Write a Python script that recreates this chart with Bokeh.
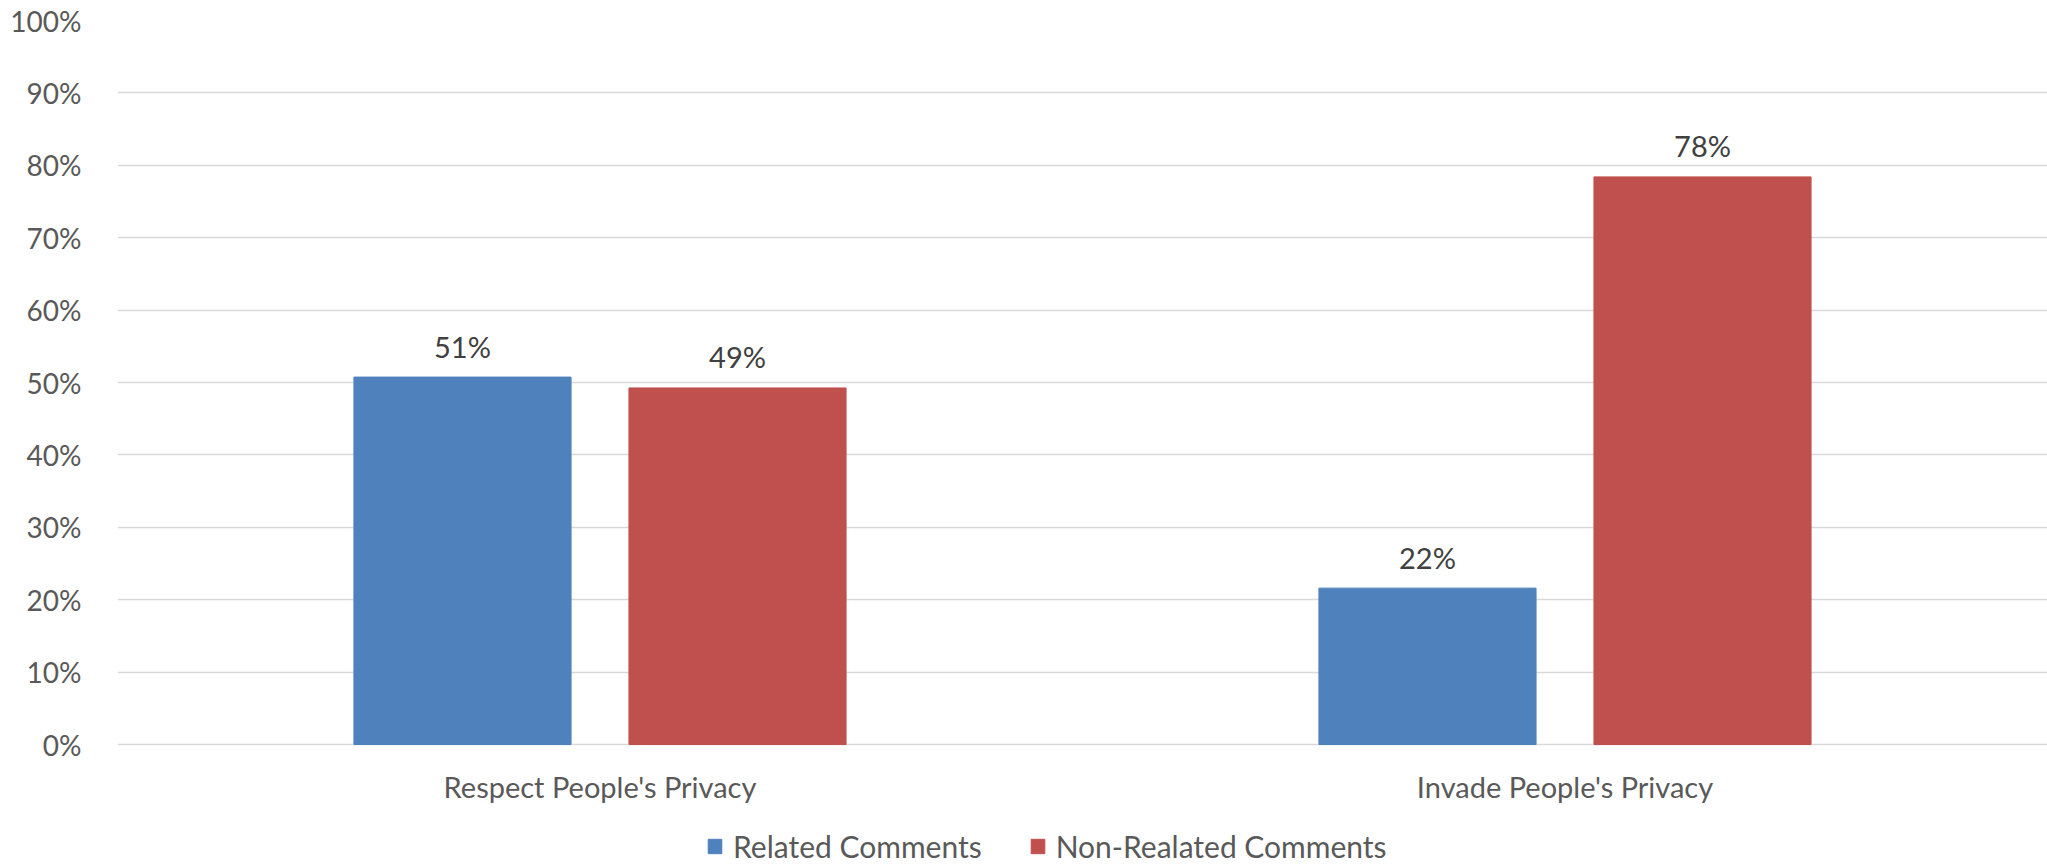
from bokeh.plotting import figure
from bokeh.models import (ColumnDataSource, FactorRange, Range1d, NumeralTickFormatter,
                          Legend, LegendItem, FixedTicker)
from bokeh.transform import dodge
from bokeh.core.properties import value
from bokeh.embed import file_html
from bokeh.resources import INLINE

categories = ["Respect People's Privacy", "Invade People's Privacy"]
related = [0.5075, 0.216]
non_related = [0.4925, 0.784]
related_labels = ["51%", "22%"]
non_related_labels = ["49%", "78%"]
series_names = ["Related Comments", "Non-Realated Comments"]
y_ticks = [0, 0.1, 0.2, 0.3, 0.4, 0.5, 0.6, 0.7, 0.8, 0.9, 1.0]

BLUE = "#4F81BD"
RED = "#C0504D"
FONT = "Lato"

src = ColumnDataSource(dict(cat=categories, rel=related, non=non_related,
                            rel_lab=related_labels, non_lab=non_related_labels))

# frame extends to the bottom of the canvas so that the legend can sit inside it
p = figure(x_range=FactorRange(*categories, range_padding=0), y_range=Range1d(-0.1671, 1),
           width=2047, height=865, output_backend="svg", toolbar_location=None,
           min_border_left=117, min_border_right=0, min_border_top=20, min_border_bottom=0)
p.outline_line_color = None
p.background_fill_color = "white"
p.border_fill_color = "white"

bw = 0.225
off = 0.1425
r1 = p.vbar(x=dodge("cat", -off, range=p.x_range), top="rel", width=bw, source=src,
            fill_color=BLUE, line_color=BLUE)
r2 = p.vbar(x=dodge("cat", off, range=p.x_range), top="non", width=bw, source=src,
            fill_color=RED, line_color=RED)

for col, lab, d in [("rel", "rel_lab", -off), ("non", "non_lab", off)]:
    p.text(x=dodge("cat", d, range=p.x_range), y=col, text=lab, source=src,
           text_align="center", text_baseline="alphabetic", y_offset=-31,
           text_font=value(FONT), text_font_size="29px", text_color="#404040")

p.ygrid.ticker = FixedTicker(ticks=y_ticks)
p.yaxis.ticker = FixedTicker(ticks=y_ticks)
p.ygrid.grid_line_color = "#D9D9D9"
p.ygrid.grid_line_width = 1.5
p.xgrid.grid_line_color = None

p.yaxis.formatter = NumeralTickFormatter(format="0%")
p.yaxis.axis_line_color = None
p.yaxis.major_tick_line_color = None
p.yaxis.minor_tick_line_color = None
p.yaxis.major_label_standoff = 30
p.yaxis.major_label_text_font = FONT
p.yaxis.major_label_text_font_size = "28px"
p.yaxis.major_label_text_color = "#595959"

p.xaxis.fixed_location = 0
p.xaxis.axis_line_color = None
p.xaxis.major_tick_line_color = None
p.xaxis.minor_tick_line_color = None
p.xaxis.major_label_standoff = 18
p.xaxis.major_label_text_font = FONT
p.xaxis.major_label_text_font_size = "29px"
p.xaxis.major_label_text_color = "#595959"

legend = Legend(items=[LegendItem(label=series_names[0], renderers=[r1]),
                       LegendItem(label=series_names[1], renderers=[r2])],
                orientation="horizontal", location=(589, 1),
                glyph_width=17, glyph_height=18, label_standoff=10, spacing=47,
                padding=0, margin=0, border_line_color=None, background_fill_alpha=0,
                label_text_font=FONT, label_text_font_size="30px",
                label_text_color="#595959")
p.add_layout(legend, "center")

open("out.html", "w").write(file_html(p, INLINE))
